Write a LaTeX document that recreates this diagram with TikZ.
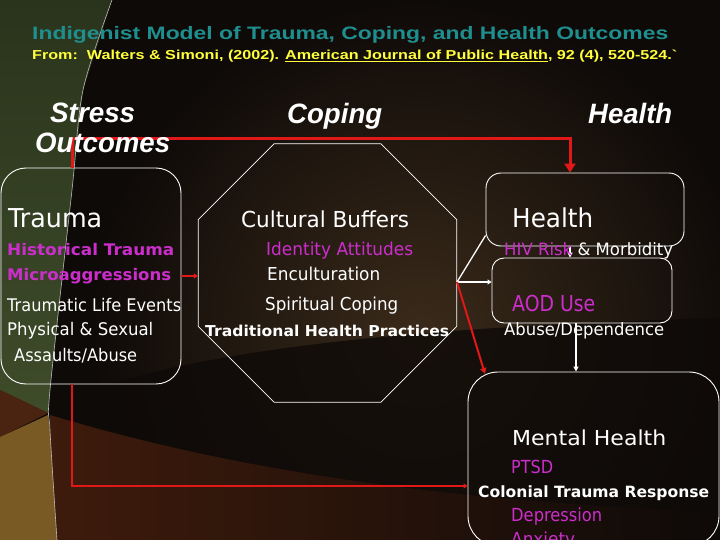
\documentclass[tikz,border=0pt]{standalone}
\usepackage{fontspec}
\usepackage{graphicx}
\setmainfont{DejaVu Sans}
\newfontfamily\arl{Liberation Sans}
\usetikzlibrary{arrows.meta,shapes.geometric}
\definecolor{bgdark}{HTML}{0E0A08}
\definecolor{bgbrown}{HTML}{3A2A1A}
\definecolor{dune}{HTML}{35261A}
\definecolor{lowred}{HTML}{3E1B0C}
\definecolor{greenA}{HTML}{2A341C}
\definecolor{greenB}{HTML}{3E4C2A}
\definecolor{bandred}{HTML}{4A2410}
\definecolor{tan}{HTML}{7A5A24}
\definecolor{ttl}{HTML}{1F8E8E}
\definecolor{ylw}{HTML}{FFFF3C}
\definecolor{mag}{HTML}{CC2ECC}
\definecolor{rd}{HTML}{E01818}
\newcommand\fw[2]{\resizebox{#1pt}{\height}{#2}}
\tikzset{
  box/.style={draw=white, line width=0.9pt, inner sep=0pt},
  txt/.style={anchor=base west, inner sep=0pt, text=white},
  head/.style={anchor=base west, inner sep=0pt, text=white, font=\arl\bfseries\itshape\fontsize{28}{30}\selectfont},
  redline/.style={draw=rd, line width=#1},
  wline/.style={draw=white, line width=1.3pt},
}
\begin{document}
\begin{tikzpicture}[x=1pt,y=-1pt]
\useasboundingbox (0,0) rectangle (720,540);
% background
\begin{scope}
\clip (0,0) rectangle (720,540);
\fill[bgdark] (0,0) rectangle (720,540);
\shade[inner color=bgbrown, outer color=bgdark] (420,330) circle (330pt);
\shade[left color=bgdark, middle color=dune, right color=bgdark, opacity=0.8] (50,405) .. controls (150,365) and (300,330) .. (720,318) -- (720,540) -- (50,540) -- cycle;
\shade[left color=lowred, right color=bgdark] (50,415) .. controls (200,460) and (400,500) .. (720,512) -- (720,540) -- (50,540) -- cycle;
\shade[top color=greenA, bottom color=greenB] (0,0) -- (112,0) -- (83,90) -- (72,190) -- (50,390) -- (48,413) -- (0,390) -- cycle;
\fill[bandred] (0,390) -- (48,413) -- (0,437) -- cycle;
\fill[tan] (0,437) -- (48,415) -- (50,430) -- (57,540) -- (0,540) -- cycle;
\draw[gray!55, line width=0.6pt] plot[smooth] coordinates {(112,0) (83,90) (72,190) (50,390) (50,430) (57,540)};
\end{scope}

% boxes
\node[box, rounded corners=25pt, minimum width=180pt, minimum height=216pt] (trauma) at (91,276) {};
\node[draw=white, line width=0.7pt, regular polygon, regular polygon sides=8, minimum size=279.6pt, inner sep=0pt] (oct) at (327.5,273) {};
\node[box, rounded corners=15pt, minimum width=198pt, minimum height=73pt] (health) at (585,209.5) {};
\node[box, rounded corners=12pt, minimum width=180pt, minimum height=65pt] (aod) at (582,290.5) {};
\node[box, rounded corners=30pt, minimum width=251pt, minimum height=174pt] (mental) at (593.5,459) {};

% connectors
\coordinate (rc) at (72,139);
\coordinate (rb) at (72,486);
\coordinate (ha) at (570,0);
\coordinate (oc) at ([yshift=-9pt]oct.east);
\coordinate (mt) at (485,374);
\coordinate (ad) at (576,0);
\draw[redline=3pt, -{Triangle[length=9pt,width=11pt]}] (trauma.north -| rc) -- (rc) -| (health.north -| ha);
\draw[redline=2pt, -{Triangle[length=4pt,width=5pt]}] (trauma.south -| rb) -- (rb) -- (rb -| mental.west);
\draw[redline=2pt, -{Triangle[length=4pt,width=5pt]}] (trauma.east) -- (trauma.east -| oct.west);
\draw[wline] (oc) -- ([yshift=11pt]health.south west);
\draw[wline, -{Triangle[length=4pt,width=5pt]}] (oc) -- (oc -| aod.west);
\draw[redline=2pt, -{Triangle[length=6pt,width=6pt]}] (oc) -- (mt);
\draw[wline, -{Triangle[length=5pt,width=5pt]}] (health.south -| ha) -- (aod.north -| ha);
\draw[wline, -{Triangle[length=5pt,width=5pt]}] (aod.south -| ad) -- (mental.north -| ad);

% title
\node[anchor=base west, inner sep=0pt, text=ttl, font=\arl\bfseries\fontsize{18}{20}\selectfont] (title) at (32,40) {\fw{636}{Indigenist Model of Trauma, Coping, and Health Outcomes}};
\node[anchor=base west, inner sep=0pt, text=ylw, font=\arl\bfseries\fontsize{13}{15}\selectfont] (sub) at (32,59.3) {\fw{645}{From:\ \ Walters \& Simoni, (2002). \underline{American Journal of Public Health}, 92 (4), 520-524.`}};

% headings
\node[head] (hstress) at (50,123) {\fw{85}{Stress}};
\node[head] (houtc) at (35,153) {\fw{135}{Outcomes}};
\node[head] (hcoping) at (287,123.3) {\fw{95}{Coping}};
\node[head] (hhealth) at (588,123.3) {\fw{84}{Health}};

% trauma texts
\node[txt, font=\fontsize{26}{28}\selectfont] (t1) at (8,227) {\fw{94}{Trauma}};
\node[txt, text=mag, font=\bfseries\fontsize{16}{18}\selectfont] (t2) at (7,255.7) {\fw{167}{Historical Trauma}};
\node[txt, text=mag, font=\bfseries\fontsize{16}{18}\selectfont] (t3) at (7,280) {\fw{164}{Microaggressions}};
\node[txt, font=\fontsize{17.4}{19}\selectfont] (t4) at (7,311) {\fw{174}{Traumatic Life Events}};
\node[txt, font=\fontsize{17.4}{19}\selectfont] (t5) at (7,335.7) {\fw{146}{Physical \& Sexual}};
\node[txt, font=\fontsize{17.4}{19}\selectfont] (t6) at (14,361.7) {\fw{123}{Assaults/Abuse}};

% coping texts
\node[txt, font=\fontsize{22}{24}\selectfont] (c1) at (241,227.7) {\fw{168}{Cultural Buffers}};
\node[txt, text=mag, font=\fontsize{17.8}{19}\selectfont] (c2) at (266,255.7) {\fw{147}{Identity Attitudes}};
\node[txt, font=\fontsize{17.8}{19}\selectfont] (c3) at (267,280) {\fw{113}{Enculturation}};
\node[txt, font=\fontsize{17.8}{19}\selectfont] (c4) at (265,310.7) {\fw{133}{Spiritual Coping}};
\node[txt, font=\bfseries\fontsize{15}{17}\selectfont] (c5) at (205,336) {\fw{244}{Traditional Health Practices}};

% health texts
\node[txt, font=\fontsize{26}{28}\selectfont] (h1) at (512,227.7) {\fw{81}{Health}};
\node[txt, font=\fontsize{17}{19}\selectfont] (h2) at (504,255.7) {\fw{169}{\textcolor{mag}{HIV Risk} \& Morbidity}};
\node[txt, text=mag, font=\fontsize{22}{24}\selectfont] (h3) at (512,311) {\fw{83}{AOD Use}};
\node[txt, font=\fontsize{17}{19}\selectfont] (h4) at (504,335.7) {\fw{160}{Abuse/Dependence}};

% mental health texts
\node[txt, font=\fontsize{20.6}{22}\selectfont] (m1) at (512,445) {\fw{154}{Mental Health}};
\node[txt, text=mag, font=\fontsize{18}{20}\selectfont] (m2) at (511,473.3) {\fw{42}{PTSD}};
\node[txt, font=\bfseries\fontsize{15.5}{17}\selectfont] (m3) at (478,497.3) {\fw{231}{Colonial Trauma Response}};
\node[txt, text=mag, font=\fontsize{18}{20}\selectfont] (m4) at (511,521) {\fw{91}{Depression}};
\begin{scope}
\clip (0,0) rectangle (720,540);
\node[txt, text=mag, font=\fontsize{18}{20}\selectfont] (m5) at (511,545) {\fw{64}{Anxiety}};
\end{scope}
\end{tikzpicture}
\end{document}
